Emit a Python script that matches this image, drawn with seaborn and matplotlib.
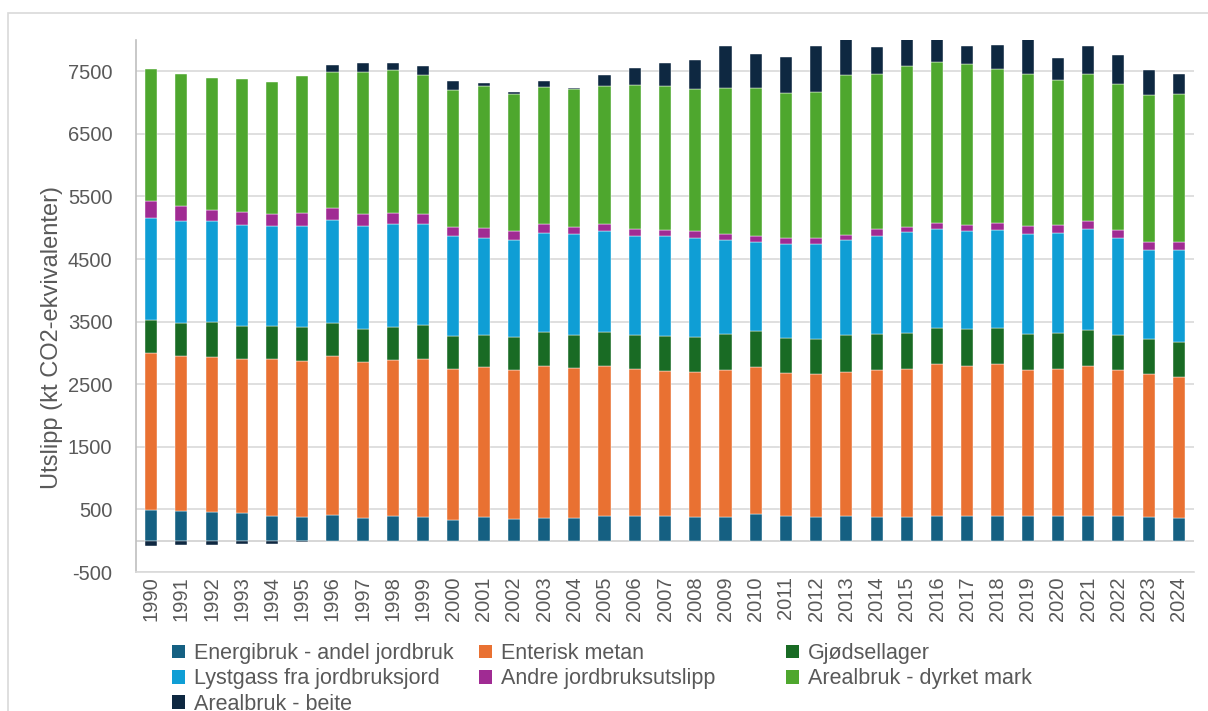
import numpy as np
import pandas as pd
import matplotlib
matplotlib.use("Agg")
import matplotlib.pyplot as plt
from matplotlib.patches import Patch, Rectangle
import seaborn as sns

years = [str(y) for y in range(1990, 2025)]

energibruk = [495, 473, 452, 436, 388, 372, 415, 356, 388, 372,
              324, 372, 340, 362, 362, 388, 388, 388, 372, 378,
              431, 388, 372, 388, 372, 372, 399, 388, 388, 388,
              388, 399, 388, 372, 356]
enterisk = [2500, 2474, 2489, 2468, 2516, 2506, 2532, 2495, 2500, 2538,
            2421, 2399, 2389, 2425, 2393, 2399, 2351, 2325, 2330, 2351,
            2346, 2293, 2293, 2314, 2357, 2367, 2420, 2410, 2431, 2346,
            2357, 2394, 2341, 2293, 2266]
gjodsel = [532, 537, 554, 532, 532, 542, 537, 537, 532, 542,
           521, 522, 526, 548, 538, 548, 554, 553, 559, 580,
           574, 564, 564, 580, 580, 585, 585, 590, 585, 564,
           569, 574, 564, 558, 554]
lystgass = [1627, 1628, 1606, 1607, 1585, 1601, 1633, 1633, 1633, 1601,
            1596, 1547, 1543, 1580, 1601, 1606, 1569, 1601, 1574, 1494,
            1426, 1500, 1510, 1516, 1563, 1602, 1575, 1559, 1553, 1606,
            1596, 1606, 1537, 1421, 1468]
andre = [272, 228, 186, 212, 192, 218, 202, 192, 176, 170,
         154, 160, 143, 138, 122, 118, 117, 101, 106, 101,
         85, 85, 91, 90, 101, 90, 101, 96, 112, 117,
         138, 128, 138, 133, 133]
dyrket = [2117, 2117, 2107, 2117, 2117, 2192, 2170, 2271, 2287, 2218,
          2186, 2266, 2203, 2197, 2202, 2204, 2298, 2293, 2277, 2325,
          2372, 2324, 2335, 2548, 2479, 2564, 2564, 2569, 2468, 2431,
          2314, 2351, 2335, 2351, 2361]
beite = [-80, -70, -70, -60, -55, -20, 107, 144, 117, 144,
         149, 53, 21, 90, 21, 184, 271, 372, 458, 681,
         548, 569, 734, 620, 431, 480, 420, 298, 389, 600,
         345, 452, 452, 393, 319]

labels = ["Energibruk - andel jordbruk", "Enterisk metan", "Gjødsellager",
          "Lystgass fra jordbruksjord", "Andre jordbruksutslipp",
          "Arealbruk - dyrket mark", "Arealbruk - beite"]
colors = ["#156082", "#E97132", "#196B24", "#0F9ED5", "#A02B93",
          "#4EA72E", "#0E2841"]

df = pd.DataFrame({"År": years, labels[0]: energibruk, labels[1]: enterisk,
                   labels[2]: gjodsel, labels[3]: lystgass, labels[4]: andre,
                   labels[5]: dyrket, labels[6]: beite})

sns.set_style("white")
plt.rcParams["font.family"] = ["Liberation Sans", "DejaVu Sans"]
plt.rcParams["axes.unicode_minus"] = False
grey = "#595959"

fig = plt.figure(figsize=(12.08, 7.11), dpi=100)
ax = fig.add_axes([136 / 1208, 1 - 572 / 711, 1058 / 1208, 532 / 711])

# stack the layers, negatives go below zero
pos = np.zeros(len(df))
neg = np.zeros(len(df))
for name, col in zip(labels, colors):
    vals = df[name].to_numpy(dtype=float)
    base = np.where(vals >= 0, pos, neg)
    sns.barplot(x=df["År"], y=vals, bottom=base, color=col, saturation=1,
                width=0.4, errorbar=None, ax=ax, edgecolor="white",
                linewidth=0.3, zorder=3)
    pos += np.clip(vals, 0, None)
    neg += np.clip(vals, None, 0)

ax.set_ylim(-500, 8000)
ax.set_xlim(-0.5, len(years) - 0.5)
ax.set_yticks(np.arange(-500, 8000, 1000))
ax.grid(axis="y", color="#d9d9d9", linewidth=1.2, zorder=0)
ax.axhline(0, color="#d0d0d0", linewidth=1.2, zorder=2)
for s in ["top", "right"]:
    ax.spines[s].set_visible(False)
ax.spines["left"].set_color("#bfbfbf")
ax.spines["left"].set_linewidth(1.2)
ax.spines["bottom"].set_color("#d9d9d9")
ax.spines["bottom"].set_linewidth(1.2)

ax.tick_params(axis="y", length=0, pad=17, labelsize=14.5, labelcolor=grey)
ax.tick_params(axis="x", length=0, pad=3, labelsize=14.5, labelcolor=grey,
               rotation=90)
ax.set_xlabel("")
ax.set_ylabel("Utslipp (kt CO2-ekvivalenter)", fontsize=17, color=grey)
ax.yaxis.set_label_coords(-0.069, 0.44)

# legend laid out like Excel: three equal columns
handles = [Patch(facecolor=c, edgecolor="none") for c in colors]
cols = [[0, 3, 6], [1, 4], [2, 5]]
xs = [172, 479, 786]
for idx, x0 in zip(cols, xs):
    fig.legend([handles[i] for i in idx], [labels[i] for i in idx],
               loc="upper left", bbox_to_anchor=(x0 / 1208, 1 - 643 / 711),
               frameon=False, fontsize=15.5, labelcolor=grey, borderpad=0,
               borderaxespad=0, handlelength=0.6, handleheight=0.6,
               handletextpad=0.42, labelspacing=0.2)

fig.patches.append(Rectangle((8 / 1208, -0.1), 1.2, 1.1 - 13 / 711,
                             transform=fig.transFigure, fill=False,
                             edgecolor="#d9d9d9", linewidth=1.2))

plt.savefig("out.png", dpi=100)
